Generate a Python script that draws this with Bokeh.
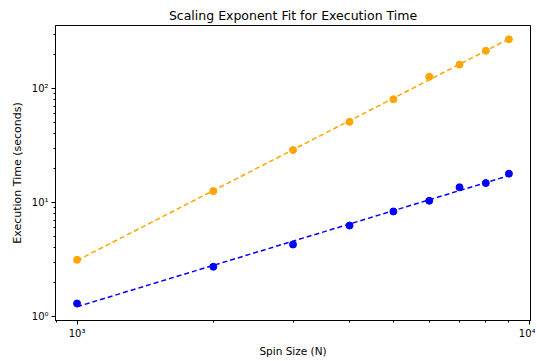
import numpy as np
from bokeh.plotting import figure
from bokeh.models import Range1d, FixedTicker
from bokeh.embed import file_html
from bokeh.resources import INLINE

spin_sizes = [1000, 2000, 3000, 4000, 5000, 6000, 7000, 8000, 9000]
time_orange = [3.14, 12.6, 28.8, 51.0, 80.5, 127.0, 162.0, 214.0, 270.0]
time_blue = [1.30, 2.73, 4.28, 6.28, 8.34, 10.35, 13.6, 14.8, 17.9]
orange = "#FFA500"
blue = "#0000FF"

FONT = "DejaVu Sans"

p = figure(x_axis_type="log", y_axis_type="log",
           frame_width=475, frame_height=295,
           x_range=Range1d(896, 10044), y_range=Range1d(0.922, 357),
           output_backend="svg", toolbar_location=None,
           title="Scaling Exponent Fit for Execution Time",
           min_border_left=55, min_border_right=5, min_border_top=25, min_border_bottom=30)

xs = np.array(spin_sizes, dtype=float)
for ys, c in [(time_orange, orange), (time_blue, blue)]:
    ys = np.array(ys, dtype=float)
    k, b = np.polyfit(np.log10(xs), np.log10(ys), 1)
    fit = 10 ** (k * np.log10(xs) + b)
    p.line(xs, fit, line_color=c, line_width=1.5, line_dash="5 3")
    p.scatter(xs, ys, size=7, fill_color=c, line_color=c)

p.title.text_font = FONT
p.title.text_font_size = "12.5px"
p.title.text_font_style = "normal"
p.title.align = "center"
p.title.text_color = "black"
p.title.offset = 0
p.title.standoff = 6

p.xgrid.visible = False
p.ygrid.visible = False
p.outline_line_color = "black"
p.outline_line_alpha = 1
p.outline_line_width = 1

p.xaxis.ticker = FixedTicker(ticks=[1000, 10000],
                             minor_ticks=[900, 2000, 3000, 4000, 5000, 6000, 7000, 8000, 9000])
p.yaxis.ticker = FixedTicker(ticks=[1, 10, 100],
                             minor_ticks=[2, 3, 4, 5, 6, 7, 8, 9, 20, 30, 40, 50, 60, 70, 80, 90, 200, 300])
p.xaxis.major_label_overrides = {1000: "10³", 10000: "10⁴"}
p.yaxis.major_label_overrides = {1: "10⁰", 10: "10¹", 100: "10²"}

p.xaxis.axis_label = "Spin Size (N)"
p.yaxis.axis_label = "Execution Time (seconds)"
for ax in (p.xaxis[0], p.yaxis[0]):
    ax.axis_label_text_font = FONT
    ax.axis_label_text_font_size = "10.5px"
    ax.axis_label_text_font_style = "normal"
    ax.axis_label_text_color = "black"
    ax.major_label_text_font = FONT
    ax.major_label_text_font_size = "10px"
    ax.major_label_text_color = "black"
    ax.axis_line_color = "black"
    ax.major_tick_line_color = "black"
    ax.minor_tick_line_color = "black"
    ax.major_tick_in = 0
    ax.major_tick_out = 4
    ax.minor_tick_in = 0
    ax.minor_tick_out = 2
    ax.major_label_standoff = 3
p.yaxis.axis_label_text_font_size = "11px"
p.xaxis.axis_label_standoff = 3
p.yaxis.axis_label_standoff = 5

open("out.html", "w").write(file_html(p, INLINE))
